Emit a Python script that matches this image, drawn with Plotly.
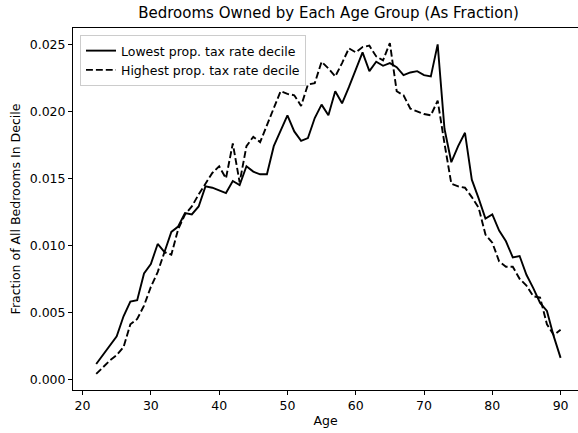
import plotly.graph_objects as go

ages = [22, 23, 24, 25, 26, 27, 28, 29, 30, 31, 32, 33, 34, 35, 36, 37, 38, 39, 40,
        41, 42, 43, 44, 45, 46, 47, 48, 49, 50, 51, 52, 53, 54, 55, 56, 57, 58, 59,
        60, 61, 62, 63, 64, 65, 66, 67, 68, 69, 70, 71, 72, 73, 74, 75, 76, 77, 78,
        79, 80, 81, 82, 83, 84, 85, 86, 87, 88, 89, 90]

lowest = [0.00114, 0.0018, 0.0025, 0.0032, 0.0047, 0.0058, 0.0059, 0.0079, 0.0086,
          0.0101, 0.0095, 0.0110, 0.0114, 0.0124, 0.0123, 0.0129, 0.0144, 0.0143,
          0.0141, 0.0139, 0.0148, 0.0145, 0.0159, 0.0155, 0.0153, 0.0153, 0.0174,
          0.0185, 0.0197, 0.0185, 0.0178, 0.0180, 0.0195, 0.0205, 0.0197, 0.0215,
          0.0206, 0.0218, 0.0231, 0.0244, 0.0230, 0.0237, 0.0234, 0.0236, 0.0233,
          0.0227, 0.0229, 0.0230, 0.0227, 0.0226, 0.0250, 0.0187, 0.0162, 0.0174,
          0.0184, 0.0149, 0.0135, 0.0120, 0.0123, 0.0111, 0.0103, 0.0091, 0.0092,
          0.0078, 0.0068, 0.0057, 0.0051, 0.0032, 0.0016]

highest = [0.0004, 0.0009, 0.0014, 0.0018, 0.0024, 0.0041, 0.0045, 0.0055, 0.0069,
           0.0080, 0.0095, 0.0093, 0.0112, 0.0123, 0.0129, 0.0138, 0.0146, 0.0154,
           0.0159, 0.0150, 0.0176, 0.0147, 0.0174, 0.0181, 0.0177, 0.0190, 0.0202,
           0.0215, 0.0213, 0.0212, 0.0204, 0.0220, 0.0221, 0.0237, 0.0232, 0.0226,
           0.0236, 0.0247, 0.0244, 0.0248, 0.0249, 0.0241, 0.0238, 0.0251, 0.0215,
           0.0212, 0.0202, 0.0200, 0.0198, 0.0197, 0.0208, 0.0176, 0.0146, 0.0144,
           0.0143, 0.0136, 0.0128, 0.0108, 0.0102, 0.0088, 0.0084, 0.0084, 0.0075,
           0.0070, 0.0062, 0.0061, 0.0041, 0.0033, 0.0037]

x_ticks = [20, 30, 40, 50, 60, 70, 80, 90]
y_ticks = [0.000, 0.005, 0.010, 0.015, 0.020, 0.025]
y_tick_labels = ["0.000", "0.005", "0.010", "0.015", "0.020", "0.025"]

FONT = "DejaVu Sans"

fig = go.Figure()
fig.add_trace(go.Scatter(x=ages, y=lowest, mode="lines",
                         name="Lowest prop. tax rate decile",
                         line=dict(color="black", width=1.9)))
fig.add_trace(go.Scatter(x=ages, y=highest, mode="lines",
                         name="Highest prop. tax rate decile",
                         line=dict(color="black", width=1.9, dash="6.9px,3px")))

axis_common = dict(showgrid=False, zeroline=False, showline=True, linecolor="black",
                   linewidth=1, ticks="outside", ticklen=4, tickwidth=1,
                   tickcolor="black", tickfont=dict(family=FONT, size=12.5, color="black"))

fig.update_layout(
    width=578, height=433,
    margin=dict(l=73, r=0, t=28, b=43),
    paper_bgcolor="white", plot_bgcolor="white",
    font=dict(family=FONT, color="black", size=12.5),
    title=dict(text="Bedrooms Owned by Each Age Group (As Fraction)",
               x=(73 + 584) / 2 / 578, xanchor="center", y=1 - 13 / 433, yanchor="middle",
               font=dict(family=FONT, size=15, color="black")),
    xaxis=dict(range=[18.6, 92.55], tickvals=x_ticks, mirror=True,
               title=dict(text="Age", font=dict(family=FONT, size=12.5), standoff=4),
               **axis_common),
    yaxis=dict(range=[-0.0008, 0.02622], tickvals=y_ticks, ticktext=y_tick_labels,
               mirror=False,
               title=dict(text="Fraction of All Bedrooms In Decile",
                          font=dict(family=FONT, size=12.5), standoff=6),
               **axis_common),
    legend=dict(x=(80 - 73) / 505, y=1 - (35 - 28) / 362, xanchor="left", yanchor="top",
                bgcolor="rgba(255,255,255,0.8)", bordercolor="#cccccc", borderwidth=1,
                font=dict(family=FONT, size=12.5, color="black"),
                tracegroupgap=0),
    showlegend=True,
)

fig.write_html("out.html", config={"displayModeBar": False},
               post_script="document.body.style.margin='0';")
